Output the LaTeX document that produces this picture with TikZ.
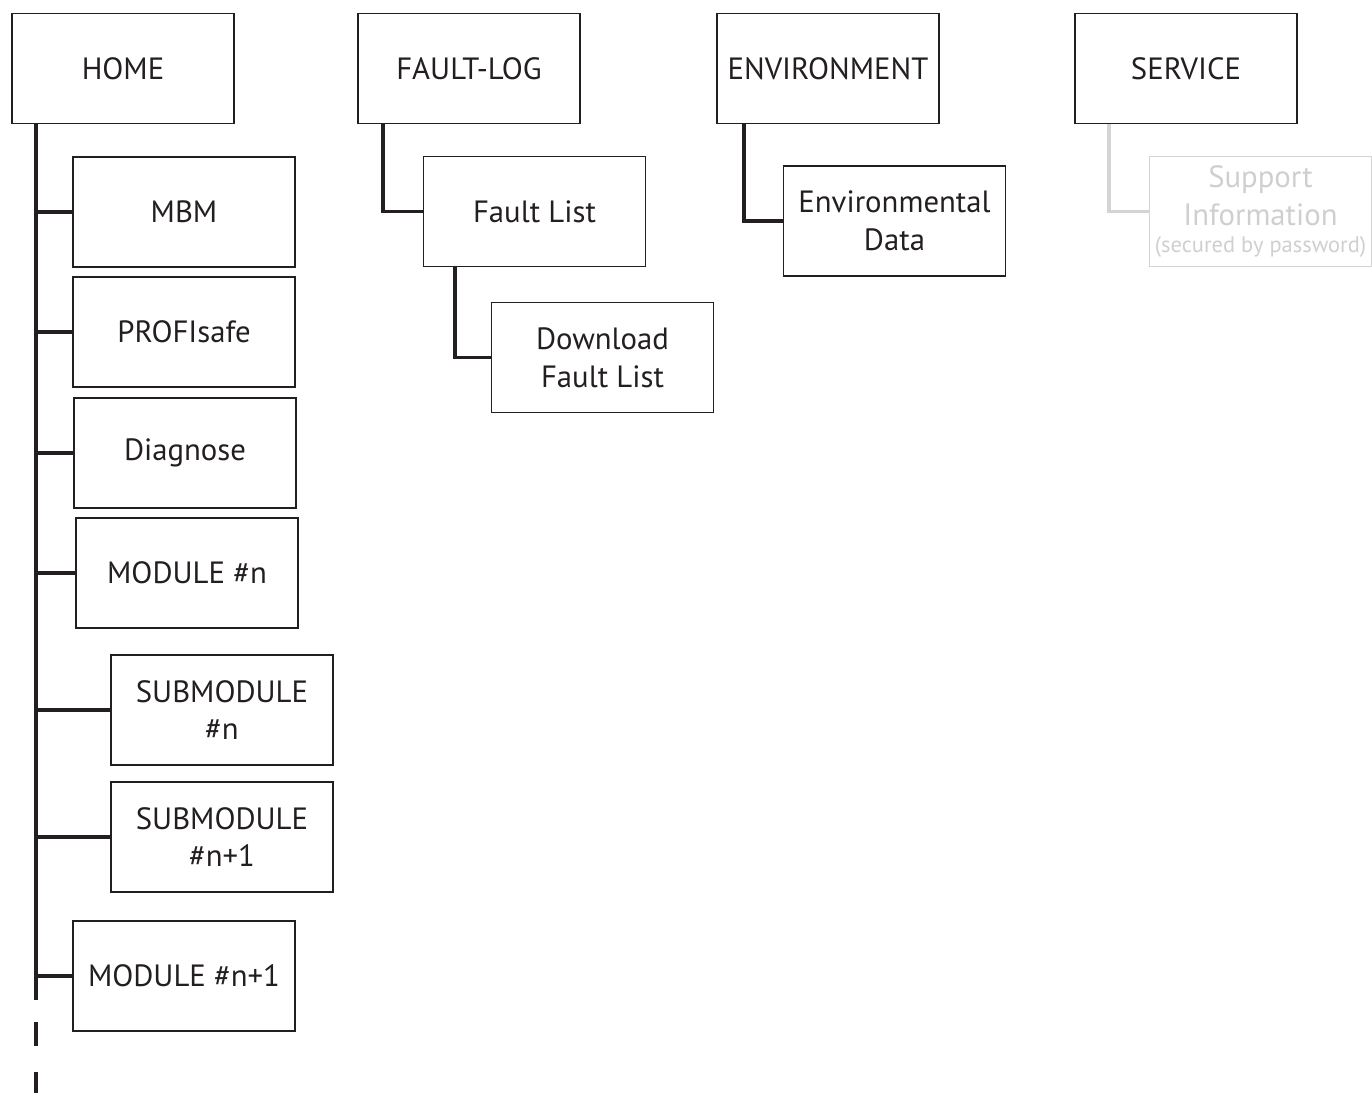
\documentclass[tikz,border=0pt]{standalone}
\usepackage{fontspec}
\setmainfont{PT Sans}
\usetikzlibrary{positioning,calc}
\definecolor{LineDark}{HTML}{231F20}
\definecolor{LockGray}{HTML}{D4D4D4}
\definecolor{LockText}{HTML}{CFCFCF}

\begin{document}
\begin{tikzpicture}[x=0.02cm, y=-0.02cm,
          every node/.style={font=\fontsize{17.5}{21.5}\selectfont, text=LineDark},
          menu/.style={draw=LineDark, line width=0.9pt, minimum width=4.44cm,
            minimum height=2.2cm, inner sep=2pt, align=center},
          ln/.style={draw=LineDark, line width=2.2pt},
          locked/.style={menu, draw=LockGray, text=LockText, inner xsep=0pt}]
        \useasboundingbox (0,0) rectangle (1372,1093);

        % top level
        \node[menu] (home) at (123,68.5)  {HOME};
        \node[menu] (flog) at (469,68.5)  {FAULT-LOG};
        \node[menu] (env)  at (828,68.5)  {ENVIRONMENT};
        \node[menu] (srv)  at (1186,68.5) {SERVICE};

        % home pages
        \node[menu] (mbm)   at (184,212)  {MBM};
        \node[menu] (profi) at (184,332)  {PROFIsafe};
        \node[menu] (diag)  at (185,453)  {Diagnose};
        \node[menu] (modn)  at (187,573)  {MODULE \#n};
        \node[menu] (subn)  at (222,710)  {SUBMODULE\\\#n};
        \node[menu] (subm)  at (222,837)  {SUBMODULE\\\#n+1};
        \node[menu] (modm)  at (184,976)  {MODULE \#n+1};

        % other pages
        \node[menu] (flist) at (534.5,211.5) {Fault List};
        \node[menu] (fdown) at (602.5,357.5) {Download\\Fault List};
        \node[menu] (edata) at (894.5,221)   {Environmental\\Data};
        \node[locked] (sinfo) at (1260.5,211.5)
          {Support\\Information\\[-6pt]{\fontsize{12.8}{15}\selectfont(secured by password)}};

        \coordinate (t0) at (36,124);
        \coordinate (t1) at (36,1000);
        \coordinate (t2) at (36,1093);

        \draw[ln] (t0) -- (t1);
        \draw[ln, dash pattern=on 0.48cm off 0.52cm, dash phase=0.56cm] (t1) -- (t2);
        \foreach \n in {mbm,profi,diag,modn,subn,subm,modm}
          \draw[ln] (\n.west -| t0) -- (\n.west);

        \draw[ln] (flog.south west) ++(26,0) |- (flist.west);
        \draw[ln] (flist.south west) ++(32,0) |- (fdown.west);
        \draw[ln] (env.south west) ++(28,0) |- (edata.west);
        \draw[ln, draw=LockGray] (srv.south west) ++(35,0) |- (sinfo.west);
      \end{tikzpicture}
\end{document}
